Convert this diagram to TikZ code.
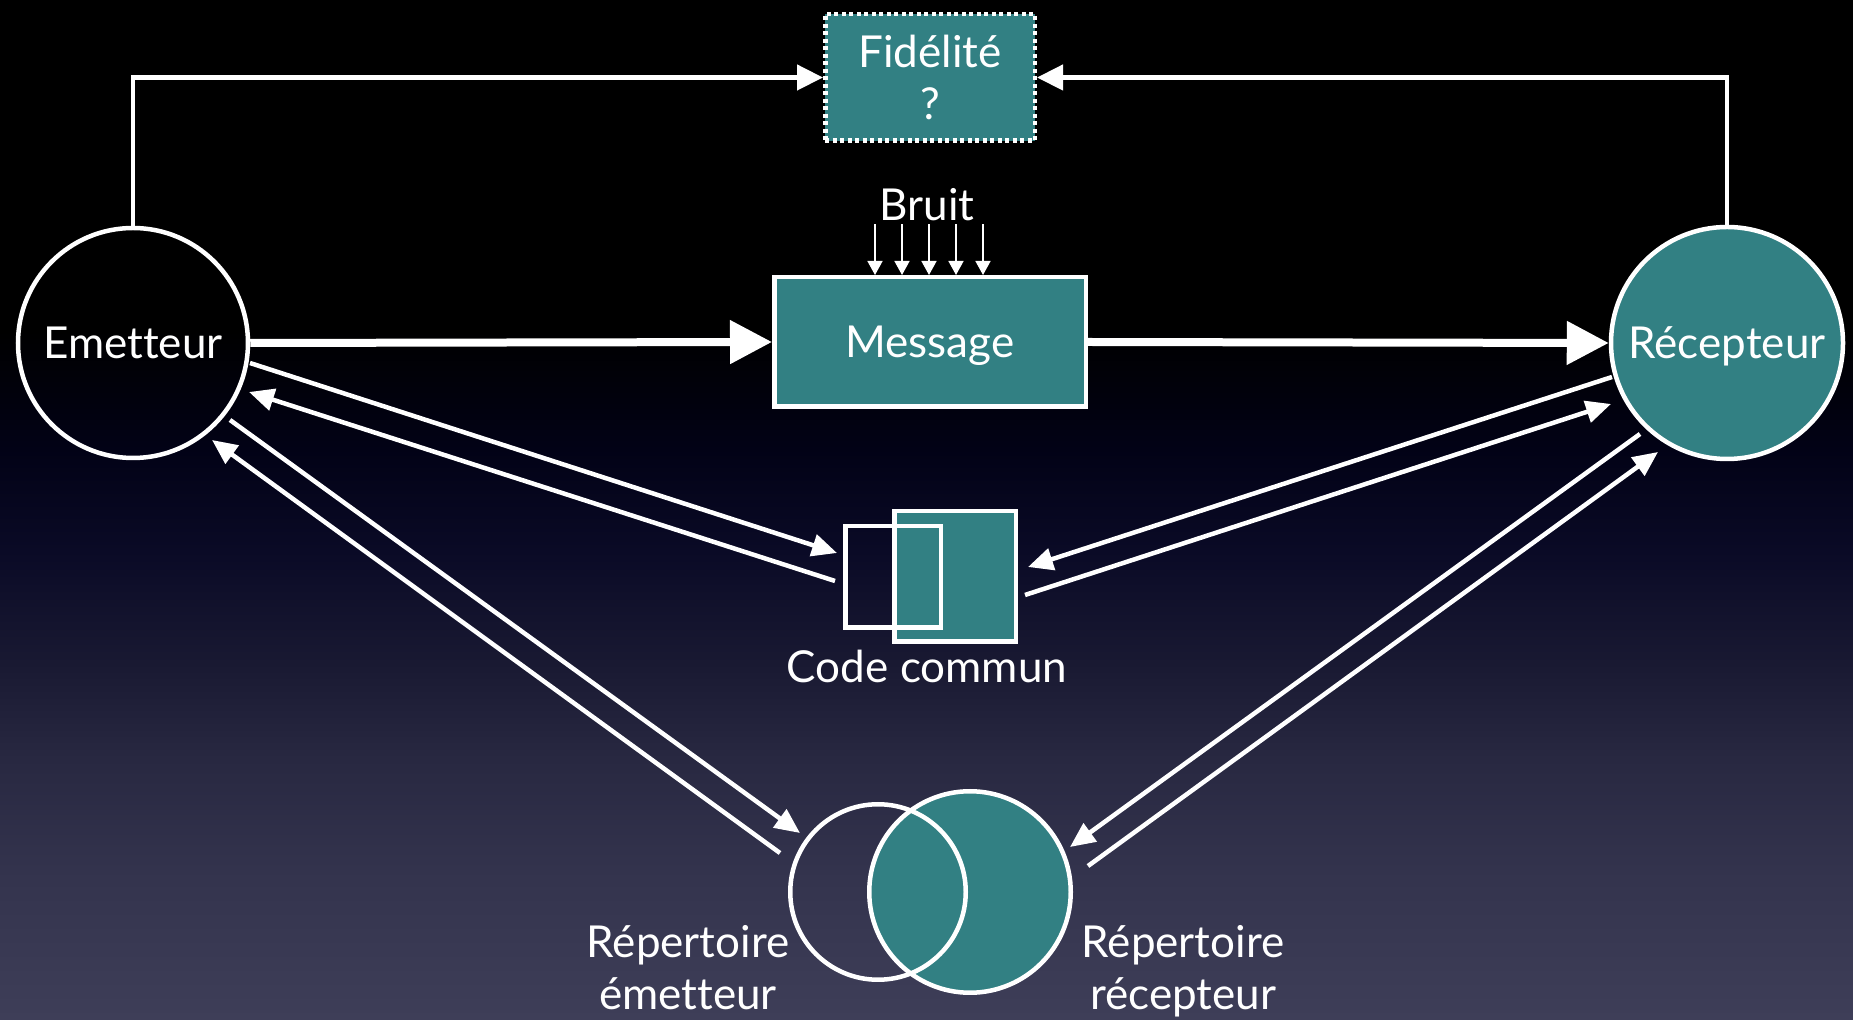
\documentclass[tikz,border=0pt]{standalone}
\usepackage{fontspec}
\setmainfont{Lato}[Ligatures=NoCommon]
\usetikzlibrary{arrows.meta}
\definecolor{tealbox}{RGB}{50,128,131}
\definecolor{bga}{RGB}{62,62,88}
\definecolor{bgb}{RGB}{52,52,78}
\definecolor{bgc}{RGB}{40,40,65}
\definecolor{bgd}{RGB}{25,25,50}
\definecolor{bge}{RGB}{10,10,38}
\definecolor{bgf}{RGB}{2,2,22}
\pgfdeclareverticalshading{nightfade}{100bp}{color(0bp)=(bga); color(25bp)=(bga); color(31.9bp)=(bgb); color(37.8bp)=(bgc); color(42.5bp)=(bgd); color(48bp)=(bge); color(53bp)=(bgf); color(58.8bp)=(black); color(100bp)=(black)}
\begin{document}
\begin{tikzpicture}[x=1pt,y=1pt]
\tikzstyle{lbl}=[text=white,font=\fontsize{44}{52}\selectfont,text height=31.7pt,text depth=0pt,align=center]
\tikzstyle{twolines}=[lbl,text height=83.7pt]
\tikzstyle{ring}=[draw=white,line width=4.5pt,circle,inner sep=0pt]
\tikzstyle{box}=[draw=white,line width=4.5pt,inner sep=0pt]
\tikzstyle{bigarrow}=[white,line width=8pt,-{Triangle[length=42pt,width=42pt]}]
\tikzstyle{thinarrow}=[white,line width=4.5pt,-{Triangle[length=25pt,width=22pt]}]
\tikzstyle{feedback}=[white,line width=4.5pt,-{Triangle[length=26pt,width=25pt]}]
\tikzstyle{noise}=[white,line width=1.6pt,-{Triangle[length=14pt,width=15pt]}]
% background
\shade[shading=nightfade] (0,0) rectangle (1853,1020);
\useasboundingbox (0,0) rectangle (1853,1020);
% main chain
\node[ring,lbl,minimum size=230pt] (em) at (133,677) {Emetteur};
\node[ring,lbl,fill=tealbox,minimum size=232pt] (rec) at (1727,677) {Récepteur};
\node[box,lbl,fill=tealbox,minimum width=311.5pt,minimum height=129.5pt] (msg) at (930,678) {Message};
\node[box,twolines,fill=tealbox,dash pattern=on 4pt off 3.5pt,minimum width=209.5pt,minimum height=126.5pt] (fid) at (930,942.5) {Fidélité\\?};
\node[lbl] (bruit) at (927,815) {Bruit};
% code commun
\node[box,fill=tealbox,minimum width=121.5pt,minimum height=130.5pt] (code2) at (955,443.5) {};
\node[box,minimum width=95.5pt,minimum height=101.5pt] (code1) at (893,443) {};
\node[lbl] (codetxt) at (927,353) {Code commun};
% repertoires
\node[ring,fill=tealbox,minimum size=201.5pt] (rep2) at (970,128) {};
\node[ring,minimum size=175.5pt] (rep1) at (878,128) {};
\node[twolines] (rep1txt) at (688,52) {Répertoire\\émetteur};
\node[twolines] (rep2txt) at (1183,52) {Répertoire\\récepteur};
% arrows
\draw[bigarrow] (em.east) -- (msg.west);
\draw[bigarrow] (msg.east) -- (rec.west);
\draw[feedback] (em.north) |- (fid.west);
\draw[feedback] (rec.north) |- (fid.east);
\foreach \i in {-2,...,2}
  \draw[noise] ([xshift=\i*27pt+2pt]bruit.south) -- ([xshift=\i*27pt+2pt]bruit.south |- msg.north);
\draw[thinarrow] ([shift={(117,-20)}]em.center) -- ([shift={(-6,24)}]code1.west);
\draw[thinarrow] ([shift={(-8,-4)}]code1.west) -- ([shift={(116,-49)}]em.center);
\draw[thinarrow] ([shift={(-115,-34)}]rec.center) -- ([shift={(10,9.5)}]code2.east);
\draw[thinarrow] ([shift={(7,-18.5)}]code2.east) -- ([shift={(-116,-61)}]rec.center);
\draw[thinarrow] ([shift={(97,-77)}]em.center) -- ([shift={(-78,59)}]rep1.center);
\draw[thinarrow] ([shift={(-98,39)}]rep1.center) -- ([shift={(79,-97)}]em.center);
\draw[thinarrow] ([shift={(-87,-91)}]rec.center) -- ([shift={(100,45)}]rep2.center);
\draw[thinarrow] ([shift={(118,26)}]rep2.center) -- ([shift={(-69,-109)}]rec.center);
\end{tikzpicture}
\end{document}
